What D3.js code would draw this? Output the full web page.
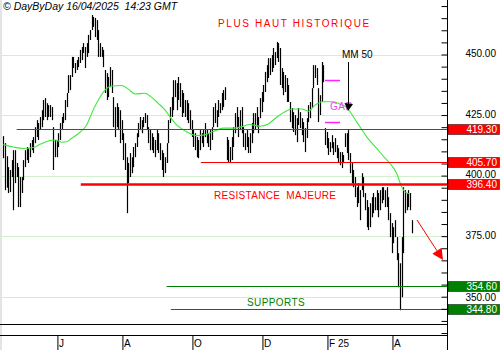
<!DOCTYPE html>
<html>
<head>
<meta charset="utf-8">
<script src="https://cdn.jsdelivr.net/npm/d3@7"></script>
<style>
  body { margin: 0; background: #fff; }
  svg { display: block; font-family: Arial, "Liberation Sans", sans-serif; }
</style>
</head>
<body>
<svg id="chart" width="500" height="350"></svg>
<script>
// daily bars, mid April 2024 -> 16/04/2025
var highs = [
  416.3, 413.4, 408.0, 403.5, 402.3, 406.4, 410.5, 410.5, 405.2, 403.5, 399.4, 399.4, 406.4, 410.5, 411.8, 411.3, 413.4, 414.7, 415.9, 420.0,
  422.9, 421.7, 424.2, 427.0, 431.2, 432.0, 429.9, 429.1, 429.1, 428.3, 420.0, 414.7, 414.7, 417.5, 421.7, 424.2, 425.8, 431.2, 434.1, 441.5,
  441.5, 449.0, 449.0, 446.5, 447.7, 449.0, 451.9, 453.1, 454.7, 453.1, 454.7, 458.1,
  460.1, 466.3, 465.5, 465.1, 464.2, 460.1, 454.7, 453.1, 451.9, 443.6, 442.3, 440.7, 444.8, 443.6, 432.4, 428.3, 429.9, 428.3, 427.0, 422.9,
  417.5, 413.4, 407.6, 405.2, 409.3, 407.6, 411.8, 413.4, 417.5, 421.7, 424.2, 422.9, 424.2, 425.8, 425.0, 420.0, 418.8, 417.5, 415.9, 414.7,
  418.8, 417.5, 413.4, 410.5, 409.3, 407.6, 413.4, 422.9, 428.3, 432.4, 439.4,
  439.4, 438.2, 440.7, 438.2, 435.3, 434.1, 431.2, 431.2, 429.9, 427.0, 422.9, 418.8, 417.5, 415.9, 414.7, 418.8, 417.5, 418.8, 421.7, 418.8,
  417.5, 418.8, 420.0, 428.3, 429.9, 427.0, 431.2, 429.9, 434.1, 435.3, 436.5, 415.9, 414.7, 411.8, 415.9, 420.0, 425.8, 428.3, 424.2, 427.0,
  428.3, 420.0, 417.5, 418.8, 415.9, 417.5, 421.7, 425.8, 425.8, 428.3, 424.2,
  432.0, 434.5, 437.4, 442.8, 445.6, 448.5, 448.5, 449.8, 452.7, 451.0, 455.2, 454.7, 452.7, 444.4, 442.8, 441.5, 440.3, 437.4, 430.4, 427.9,
  426.2, 425.0, 423.7, 427.9, 426.2, 423.7, 422.1, 419.6, 423.7, 429.1, 430.4, 436.1, 445.6, 445.6, 444.4, 436.1, 433.2, 446.9, 445.6, 419.6,
  418.0, 415.5, 413.8, 416.7, 413.8, 415.5, 412.6, 411.3, 409.7, 409.7, 408.5,
  417.5, 417.5, 418.8, 409.3, 405.2, 402.3, 399.4, 395.2, 396.9, 394.0, 401.0, 399.4, 392.8, 389.9, 387.0, 388.6, 391.1, 392.8, 391.1, 394.0,
  392.8, 394.0, 395.2, 395.2, 394.0, 395.2, 391.1, 384.5, 380.4, 378.7, 381.6, 374.6, 368.0, 363.8, 374.6, 395.2, 394.0, 392.8, 394.0, 392.8,
  381.6
];
var lows = [
  407.2, 394.0, 395.0, 392.8, 393.2, 399.4, 385.7, 396.9, 399.4, 387.0, 387.0, 392.8, 398.1, 403.5, 406.4, 405.2, 407.6, 410.5, 409.3, 413.4,
  415.9, 414.7, 418.8, 420.0, 422.9, 424.2, 422.9, 424.2, 424.2, 422.9, 402.3, 407.6, 407.6, 411.8, 414.7, 418.8, 421.7, 422.9, 428.3, 434.1,
  435.3, 440.7, 444.4, 442.3, 443.6, 444.8, 446.5, 447.7, 450.6, 444.4, 449.0, 450.6,
  456.0, 460.1, 461.4, 457.2, 456.0, 449.0, 449.0, 449.0, 444.8, 434.1, 431.2, 432.4, 436.5, 434.1, 420.0, 415.9, 420.0, 418.8, 413.4, 414.7,
  406.4, 402.3, 384.5, 396.9, 399.4, 401.0, 403.5, 407.6, 411.8, 415.9, 418.8, 417.5, 420.0, 421.7, 418.8, 413.4, 410.5, 410.5, 409.3, 407.6,
  410.5, 409.3, 406.4, 402.3, 399.4, 401.0, 405.2, 413.4, 421.7, 424.2, 427.0,
  432.4, 427.0, 431.2, 428.3, 424.2, 425.8, 424.2, 422.9, 421.7, 418.8, 415.9, 411.8, 410.5, 407.6, 407.2, 410.5, 413.4, 411.8, 415.9, 413.4,
  411.8, 410.5, 414.7, 420.0, 421.7, 420.0, 424.2, 425.8, 427.0, 428.3, 431.2, 406.4, 405.2, 405.2, 406.4, 411.8, 417.5, 420.0, 415.9, 418.8,
  417.5, 411.8, 410.5, 411.8, 409.3, 409.3, 413.4, 417.5, 418.8, 420.0, 417.5,
  423.7, 426.2, 430.4, 434.5, 438.6, 440.3, 441.5, 442.8, 444.4, 445.6, 448.5, 446.9, 437.4, 436.1, 433.2, 434.5, 430.4, 430.4, 422.1, 419.6,
  418.0, 416.7, 413.8, 420.9, 419.6, 416.7, 413.8, 409.7, 415.5, 422.1, 423.7, 427.9, 436.1, 440.3, 437.4, 422.1, 425.0, 430.4, 438.6, 412.6,
  411.3, 408.5, 409.7, 411.3, 408.5, 409.7, 407.2, 405.6, 404.3, 403.1, 405.2,
  411.8, 409.3, 406.4, 401.0, 396.9, 395.2, 391.1, 387.0, 388.6, 381.6, 394.0, 391.1, 385.7, 378.7, 377.5, 378.7, 382.8, 384.5, 385.7, 385.7,
  382.8, 385.7, 388.6, 389.9, 387.0, 387.0, 381.6, 374.6, 368.0, 372.1, 374.6, 365.1, 353.9, 344.4, 349.8, 368.0, 384.5, 385.7, 387.0, 385.7,
  376.2
];

// moving average 50 (MM 50), sampled at bar indexes
var maIdx = [0, 6, 12, 18, 22, 28, 31, 35, 38, 41, 46, 50, 53, 57, 61, 65, 71, 75, 79, 85, 89, 93, 97, 101, 104, 110, 116, 120, 126, 132,
  138, 142, 148, 154, 159, 163, 169, 173, 179, 183, 187, 191, 198, 202, 206, 212, 218, 224, 229, 232, 236, 239, 241, 244];
var maVal = [412.8, 411.8, 411.2, 411.6, 412.9, 414.5, 414.7, 413.8, 414.0, 415.4, 417.9, 420.9, 425.7, 431.2, 435.3, 437.0, 437.2, 435.7,
  433.7, 434.0, 432.3, 429.8, 427.1, 423.3, 420.9, 418.1, 416.5, 416.7, 418.2, 419.6, 419.6, 420.0, 421.1, 420.4, 421.3, 423.6, 426.4, 427.5,
  427.5, 426.6, 429.1, 430.5, 430.5, 429.5, 428.1, 422.2, 416.0, 411.2, 407.2, 405.0, 400.9, 395.4, 393.3, 392.4];

var monthIdx = [33, 72, 114, 156, 195, 234];
var monthLabels = ["J", "A", "O", "D", "F 25", "A"];
var gridLevels = [450, 425, 400, 375, 350];

var resistLevels = [419.3, 405.7, 396.4];
var resistFrom = [8, 118.5, 46.5];
var resistWidth = [1, 1, 2.5];
var supportLevels = [354.6, 344.8];
var supportFrom = [98, 100.5];
var gapLevels = [439.5, 422.1];
var gapFrom = 193, gapTo = 202;

var svg = d3.select("#chart");
var axisX = 447;
var fmt = d3.format(".2f");

var x = d3.scaleLinear().domain([0, 245]).range([3.3, 411.7]);
var y = d3.scaleLinear().domain([350, 450]).range([296.7, 54.5]);

var bars = highs.map(function (h, i) { return { i: i, high: h, low: lows[i] }; });
var ma = maIdx.map(function (d, i) { return { i: d, v: maVal[i] }; });

svg.append("rect").attr("width", 500).attr("height", 350).attr("fill", "#fff");
svg.append("rect").attr("x", 0).attr("y", 0).attr("width", 2).attr("height", 350).attr("fill", "#e4e4e4");

// grid
svg.append("g").selectAll("line").data(gridLevels).enter().append("line")
  .attr("x1", 2).attr("x2", axisX)
  .attr("y1", function (d) { return Math.round(y(d)) + 0.5; })
  .attr("y2", function (d) { return Math.round(y(d)) + 0.5; })
  .attr("stroke", "#d2f0cc").attr("stroke-width", 1);

// price bars
svg.append("g").selectAll("line").data(bars).enter().append("line")
  .attr("x1", function (d) { return Math.round(x(d.i)) + 0.5; })
  .attr("x2", function (d) { return Math.round(x(d.i)) + 0.5; })
  .attr("y1", function (d) { return y(d.high); })
  .attr("y2", function (d) { return y(d.low); })
  .attr("stroke", "#000").attr("stroke-width", 1.2);

// MM 50
svg.append("path").datum(ma)
  .attr("d", d3.line().curve(d3.curveMonotoneX)
    .x(function (d) { return x(d.i); })
    .y(function (d) { return y(d.v); }))
  .attr("fill", "none").attr("stroke", "#3ee83e").attr("stroke-width", 1.1);

// resistance lines
svg.append("g").selectAll("line").data(resistLevels).enter().append("line")
  .attr("x1", function (d, i) { return x(resistFrom[i]); }).attr("x2", axisX)
  .attr("y1", function (d) { return Math.round(y(d)) + 0.5; })
  .attr("y2", function (d) { return Math.round(y(d)) + 0.5; })
  .attr("stroke", "#ff0000")
  .attr("stroke-width", function (d, i) { return resistWidth[i]; });

// supports
svg.append("g").selectAll("line").data(supportLevels).enter().append("line")
  .attr("x1", function (d, i) { return x(supportFrom[i]); }).attr("x2", axisX)
  .attr("y1", function (d) { return Math.round(y(d)) + 0.5; })
  .attr("y2", function (d) { return Math.round(y(d)) + 0.5; })
  .attr("stroke", "#008000").attr("stroke-width", 1);

// gap marks
svg.append("g").selectAll("line").data(gapLevels).enter().append("line")
  .attr("x1", x(gapFrom)).attr("x2", x(gapTo))
  .attr("y1", function (d) { return Math.round(y(d)) + 0.5; })
  .attr("y2", function (d) { return Math.round(y(d)) + 0.5; })
  .attr("stroke", "#ff22ff").attr("stroke-width", 1.5);

// texts
function label(txt, px, py, col, size, style) {
  return svg.append("text").attr("x", px).attr("y", py)
    .attr("fill", col).attr("font-size", size)
    .attr("font-style", style || "normal")
    .style("white-space", "pre").text(txt);
}
label("\u00a9 DayByDay 16/04/2025  14:23 GMT", 3, 10, "#000", 10.5, "italic");
label("PLUS HAUT HISTORIQUE", 218, 27, "#ff0000", 10).attr("letter-spacing", 1.6);
label("RESISTANCE  MAJEURE", 214, 199, "#ff0000", 10).attr("letter-spacing", 0.3);
label("SUPPORTS", 247, 306, "#008000", 10).attr("letter-spacing", 0.4);
label("MM 50", 342, 57.5, "#000", 10);
label("GAP", 330, 110, "#ee44ee", 10).attr("letter-spacing", 0.5);

// MM 50 arrow
var ax = 348.5;
svg.append("line").attr("x1", ax).attr("x2", ax).attr("y1", 62).attr("y2", 105)
  .attr("stroke", "#000").attr("stroke-width", 1);
svg.append("path").attr("d", "M" + (ax - 4) + ",103L" + (ax + 4.5) + ",104L" + (ax - 0.5) + ",111Z").attr("fill", "#000");

// red down arrow
var s = [417, 220], t = [443, 260];
var dx = t[0] - s[0], dy = t[1] - s[1], len = Math.sqrt(dx * dx + dy * dy);
var ux = dx / len, uy = dy / len;
var bx = t[0] - 11 * ux, by = t[1] - 11 * uy;
svg.append("line").attr("x1", s[0]).attr("y1", s[1]).attr("x2", bx).attr("y2", by)
  .attr("stroke", "#ff0000").attr("stroke-width", 1);
svg.append("path")
  .attr("d", "M" + t[0] + "," + t[1] + "L" + (bx - 5.5 * uy) + "," + (by + 5.5 * ux) + "L" + (bx + 5.5 * uy) + "," + (by - 5.5 * ux) + "Z")
  .attr("fill", "#ff0000");

// bottom frame
[324, 335].forEach(function (yy) {
  svg.append("line").attr("x1", 0).attr("x2", axisX).attr("y1", yy + 0.5).attr("y2", yy + 0.5)
    .attr("stroke", "#000");
});

// month axis
var xAxis = d3.axisBottom(d3.scaleLinear().domain(x.domain()).range(x.range().map(function (r) { return r - 0.9; })))
  .tickValues(monthIdx).tickSize(15).tickFormat("");
var gx = svg.append("g").attr("transform", "translate(0,335)").call(xAxis);
gx.select(".domain").remove();
gx.selectAll(".tick line").attr("stroke", "#000");
svg.append("g").selectAll("text").data(monthIdx).enter().append("text")
  .attr("x", function (d) { return Math.round(x(d) - 0.9) + 2; })
  .attr("y", 347).attr("font-size", 10).attr("fill", "#000")
  .text(function (d, i) { return monthLabels[i]; });

// price axis
var yTicks = d3.range(335, 471, 5).filter(function (v) { return y(v) > 0 && y(v) < 336; });
var yAxis = d3.axisLeft(y).tickValues(yTicks).tickSize(6).tickFormat("");
var gy = svg.append("g").attr("transform", "translate(" + (axisX + 0.5) + ",0)").call(yAxis);
gy.select(".domain").remove();
svg.append("line").attr("x1", axisX + 0.5).attr("x2", axisX + 0.5).attr("y1", 0).attr("y2", 350).attr("stroke", "#000");

svg.append("g").selectAll("text").data(gridLevels).enter().append("text")
  .attr("x", 496).attr("y", function (d) { return y(d) + (d === 350 ? 4 : 2.5); })
  .attr("text-anchor", "end").attr("font-size", 10).attr("fill", "#000")
  .text(function (d) { return fmt(d); });

// level boxes
var boxes = resistLevels.map(function (v) { return { v: v, c: "#ff0000" }; })
  .concat(supportLevels.map(function (v) { return { v: v, c: "#008000" }; }));
var gb = svg.append("g").selectAll("g").data(boxes).enter().append("g");
gb.append("rect")
  .attr("x", axisX + 1).attr("y", function (d) { return Math.round(y(d.v)) - 4.5; })
  .attr("width", 51.5).attr("height", 10)
  .attr("fill", function (d) { return d.c; })
  .attr("stroke", "#000").attr("stroke-opacity", 0.6).attr("stroke-width", 0.8);
gb.append("text")
  .attr("x", 497).attr("y", function (d) { return Math.round(y(d.v)) + 4; })
  .attr("text-anchor", "end").attr("font-size", 10).attr("fill", "#fff")
  .text(function (d) { return fmt(d.v); });
</script>
</body>
</html>
